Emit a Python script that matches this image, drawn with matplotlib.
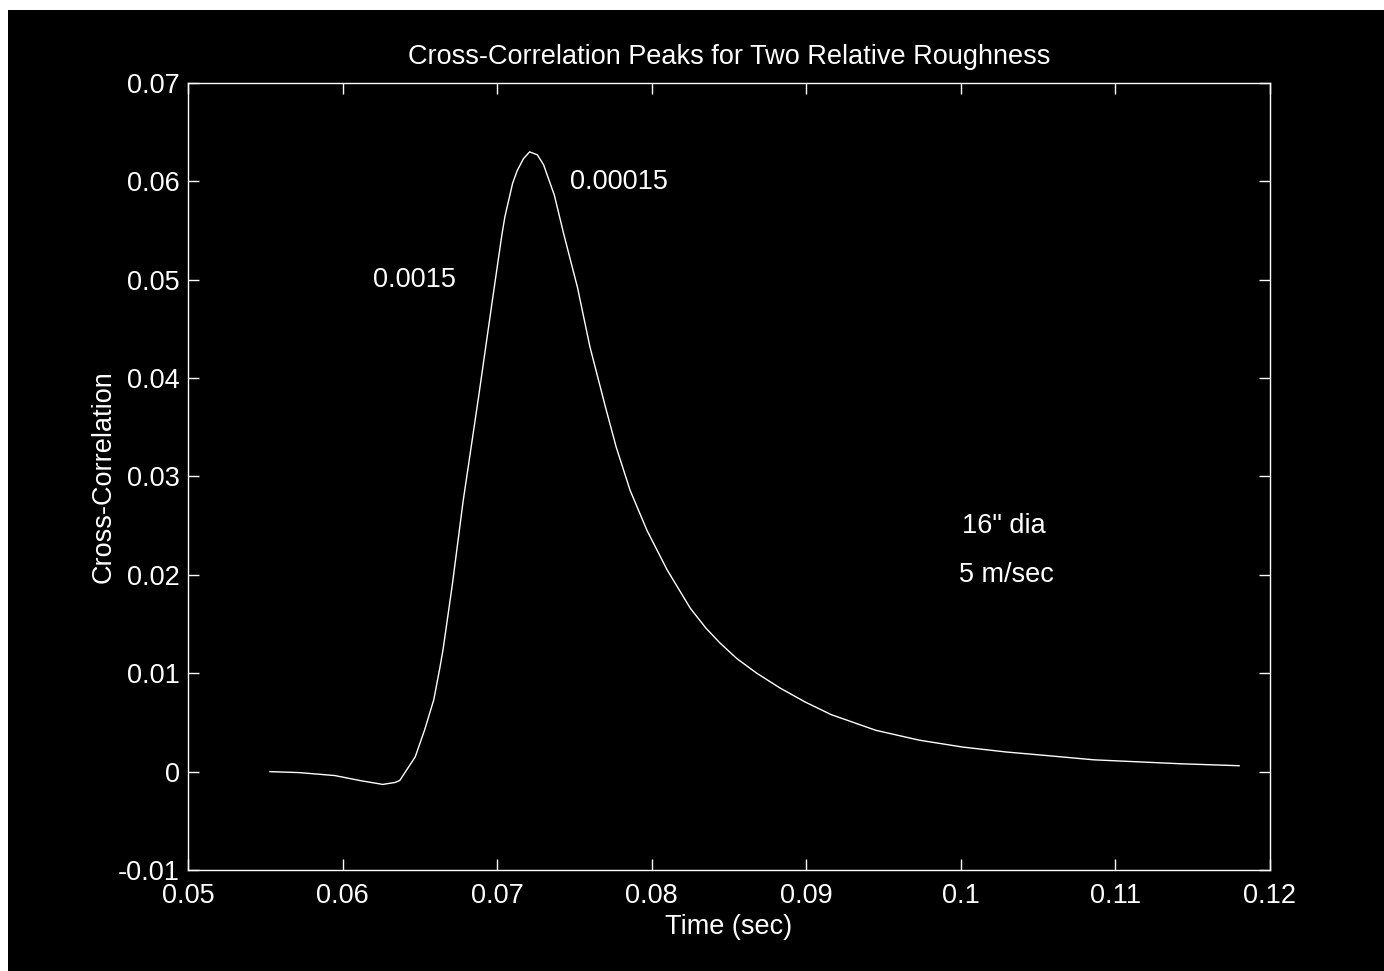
import matplotlib
matplotlib.use("Agg")
import matplotlib.pyplot as plt
from matplotlib.patches import Rectangle

plt.rcParams['font.family'] = ['Liberation Sans', 'DejaVu Sans']

# curve
time_s = [0.0553, 0.0572, 0.0595, 0.0611, 0.0626, 0.0634, 0.0637, 0.0647,
          0.0653, 0.0659, 0.0663, 0.0665, 0.0671, 0.0678, 0.0688, 0.0693,
          0.0697, 0.0703, 0.0705, 0.0710, 0.0713, 0.0717, 0.0721, 0.0726,
          0.0730, 0.0737, 0.0743, 0.0752, 0.0760, 0.0770, 0.0777, 0.0786,
          0.0797, 0.0810, 0.0825, 0.0835, 0.0844, 0.0855, 0.0868, 0.0883,
          0.0899, 0.0916, 0.0945, 0.0973, 0.1001, 0.1029, 0.1058, 0.1086,
          0.1114, 0.1142, 0.1180]
xcorr = [0.0000, -0.0001, -0.0004, -0.0009, -0.0013, -0.0011, -0.0009, 0.0015,
         0.0042, 0.0073, 0.0106, 0.0124, 0.0190, 0.0275, 0.0381, 0.0436,
         0.0480, 0.0545, 0.0564, 0.0598, 0.0611, 0.0623, 0.0630, 0.0627,
         0.0617, 0.0586, 0.0547, 0.0492, 0.0432, 0.0371, 0.0330, 0.0286,
         0.0245, 0.0205, 0.0166, 0.0146, 0.0131, 0.0115, 0.0100, 0.0085,
         0.0071, 0.0058, 0.0042, 0.0032, 0.0025, 0.0020, 0.0016, 0.0012,
         0.0010, 0.0008, 0.0006]

xticks = [0.05, 0.06, 0.07, 0.08, 0.09, 0.1, 0.11, 0.12]
xticklabels = ['0.05', '0.06', '0.07', '0.08', '0.09', '0.1', '0.11', '0.12']
yticks = [-0.01, 0, 0.01, 0.02, 0.03, 0.04, 0.05, 0.06, 0.07]
yticklabels = ['-0.01', '0', '0.01', '0.02', '0.03', '0.04', '0.05', '0.06', '0.07']

notes = [(0.0747, 0.0599, '0.00015'),
         (0.0620, 0.0500, '0.0015'),
         (0.1001, 0.0250, '16" dia'),
         (0.0999, 0.0200, '5 m/sec')]

fs = 19.5
fig = plt.figure(figsize=(13.84, 9.71), dpi=100, facecolor='white')
# black canvas, thin white strip along top and left edge
fig.patches.append(Rectangle((8 / 1384, 0), 1, 961 / 971, transform=fig.transFigure,
                             facecolor='black', edgecolor='none', zorder=-10))

ax = fig.add_axes([188 / 1384, 101 / 971, 1082 / 1384, 787 / 971])
ax.set_facecolor('black')
ax.plot(time_s, xcorr, color='white', lw=1.0)

ax.set_xlim(0.05, 0.12)
ax.set_ylim(-0.01, 0.07)
ax.set_xticks(xticks)
ax.set_xticklabels(xticklabels)
ax.set_yticks(yticks)
ax.set_yticklabels(yticklabels)
ax.tick_params(direction='in', length=8, width=1, colors='white', labelsize=fs,
               top=True, right=True)
ax.tick_params(axis='x', pad=9)
ax.tick_params(axis='y', pad=6)
for s in ax.spines.values():
    s.set_color('white')
    s.set_linewidth(1.0)

for x, y, txt in notes:
    ax.text(x, y, txt, color='white', fontsize=fs, ha='left', va='center')

ax.set_title('Cross-Correlation Peaks for Two Relative Roughness', color='white',
             fontsize=fs, pad=14)
ax.set_xlabel('Time (sec)', color='white', fontsize=fs, labelpad=4)
ax.set_ylabel('Cross-Correlation', color='white', fontsize=fs, labelpad=1)

fig.savefig('out.png', dpi=100, facecolor=fig.get_facecolor())
